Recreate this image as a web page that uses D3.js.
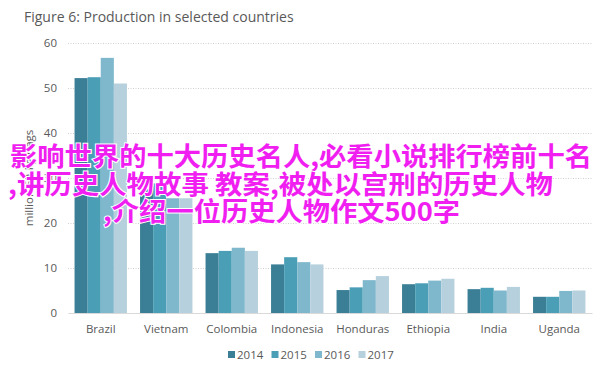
<!DOCTYPE html>
<html>
<head>
<meta charset="utf-8">
<script src="https://cdn.jsdelivr.net/npm/d3@7"></script>
<style>
  body { margin: 0; background: #fff; }
  svg { display: block; font-family: "Open Sans", sans-serif; }
</style>
</head>
<body>
<svg width="612" height="366"></svg>
<script>
const countries = ['Brazil', 'Vietnam', 'Colombia', 'Indonesia', 'Honduras', 'Ethiopia', 'India', 'Uganda'];
const years = ['2014', '2015', '2016', '2017'];
const v2014 = [52.2, 27.5, 13.3, 10.8, 5.1, 6.4, 5.3, 3.6];
const v2015 = [52.4, 28.8, 13.8, 12.4, 5.7, 6.6, 5.6, 3.6];
const v2016 = [56.7, 25.5, 14.5, 11.3, 7.3, 7.2, 5.0, 4.9];
const v2017 = [51.0, 25.5, 13.8, 10.8, 8.2, 7.6, 5.8, 5.0];
const yTicks = [0, 10, 20, 30, 40, 50, 60];
const colors = ['#3b7f96', '#4a9fb6', '#7fb8cc', '#b6d1dd'];
const overlayLines = [
    '影响世界的十大历史名人,必看小说排行榜前十名',
    ',讲历史人物故事 教案,被处以宫刑的历史人物',
    ',介绍一位历史人物作文500字'
];

const series = [v2014, v2015, v2016, v2017];
const data = countries.map((c, i) => ({
    country: c,
    values: years.map((y, j) => ({ year: y, value: series[j][i] }))
}));

const svg = d3.select('svg');
const margin = { top: 43, right: 20, bottom: 53, left: 68 };
const width = +svg.attr('width');
const height = +svg.attr('height');
const innerWidth = width - margin.left - margin.right;
const innerHeight = height - margin.top - margin.bottom;

const x0 = d3.scaleBand().domain(countries).range([0, innerWidth]).paddingInner(0.2).paddingOuter(0.1);
const x1 = d3.scaleBand().domain(years).range([0, x0.bandwidth()]);
const y = d3.scaleLinear().domain([0, 60]).range([innerHeight, 0]);
const color = d3.scaleOrdinal().domain(years).range(colors);

svg.append('text')
    .attr('x', 24).attr('y', 22)
    .attr('fill', '#595959')
    .attr('font-size', 14)
    .text('Figure 6: Production in selected countries');

const g = svg.append('g').attr('transform', `translate(${margin.left},${margin.top})`);

// gridlines
const yAxis = g.append('g')
    .call(d3.axisLeft(y).tickValues(yTicks).tickSize(-innerWidth).tickPadding(11));
yAxis.select('.domain').remove();
yAxis.selectAll('.tick line')
    .attr('stroke', '#d0d0d0')
    .attr('stroke-dasharray', '1,1.5')
    .filter(d => d === 0).remove();
yAxis.selectAll('.tick text')
    .attr('fill', '#595959')
    .attr('font-size', 11.5)
    .attr('font-family', '"Open Sans", sans-serif');

// bars
g.selectAll('.group')
    .data(data)
    .enter().append('g')
    .attr('transform', d => `translate(${x0(d.country)},0)`)
    .selectAll('rect')
    .data(d => d.values)
    .enter().append('rect')
    .attr('x', d => x1(d.year))
    .attr('width', x1.bandwidth())
    .attr('y', d => y(d.value))
    .attr('height', d => innerHeight - y(d.value))
    .attr('fill', d => color(d.year));

// x axis
const xAxis = g.append('g')
    .attr('transform', `translate(0,${innerHeight})`)
    .call(d3.axisBottom(x0).tickSize(0).tickPadding(12));
xAxis.select('.domain').attr('stroke', '#d9d9d9');
xAxis.selectAll('.tick text')
    .attr('fill', '#595959')
    .attr('font-size', 11.5)
    .attr('font-family', '"Open Sans", sans-serif');

svg.append('text')
    .attr('transform', `translate(33,${margin.top + innerHeight / 2}) rotate(-90)`)
    .attr('text-anchor', 'middle')
    .attr('fill', '#595959')
    .attr('font-size', 11.5)
    .text('million 60-kg bags');

// legend
const legend = svg.append('g').attr('transform', 'translate(228,355)');
const items = legend.selectAll('g')
    .data(years)
    .enter().append('g')
    .attr('transform', (d, i) => `translate(${i * 43.5},0)`);
items.append('rect')
    .attr('x', 0).attr('y', -4)
    .attr('width', 7).attr('height', 7)
    .attr('fill', d => color(d));
items.append('text')
    .attr('x', 9).attr('y', 4)
    .attr('fill', '#595959')
    .attr('font-size', 11.5)
    .text(d => d);

// overlay text
const overlay = [
    { x: 10, y: 166, w: 582 },
    { x: 8, y: 194, w: 545 },
    { x: 103, y: 221, w: 357 }
];
svg.append('g')
    .selectAll('text')
    .data(overlayLines)
    .enter().append('text')
    .attr('x', (d, i) => overlay[i].x)
    .attr('y', (d, i) => overlay[i].y)
    .attr('textLength', (d, i) => overlay[i].w)
    .attr('lengthAdjust', 'spacingAndGlyphs')
    .attr('font-family', '"Noto Sans CJK SC", sans-serif')
    .attr('font-weight', 'bold')
    .attr('font-size', 26)
    .attr('fill', '#f01ef0')
    .attr('stroke', '#fff')
    .attr('stroke-width', 2)
    .attr('paint-order', 'stroke')
    .text(d => d);
</script>
</body>
</html>
